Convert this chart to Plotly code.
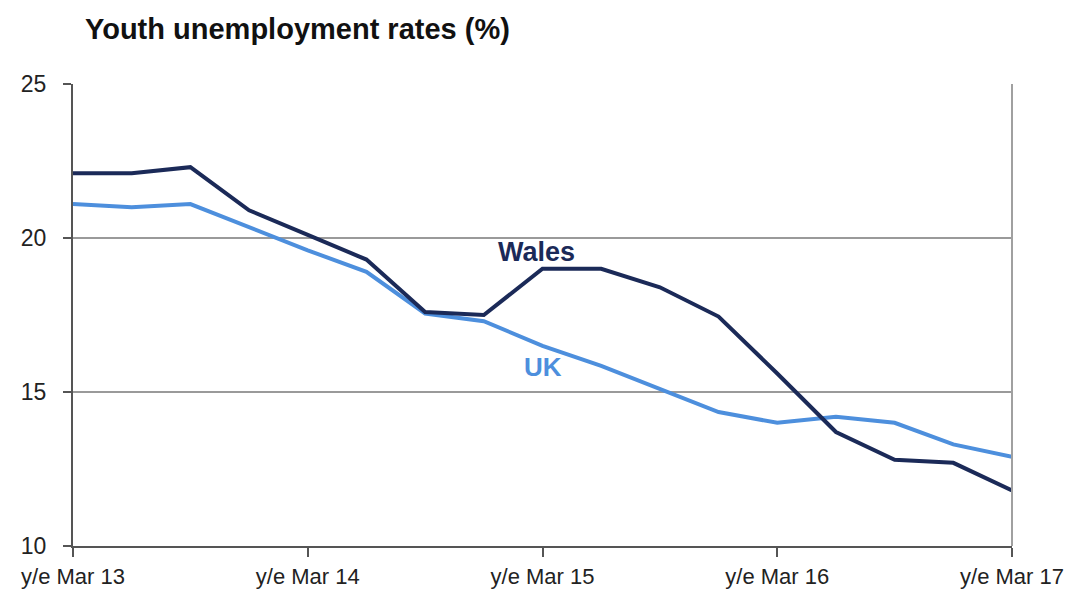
import plotly.graph_objects as go

# Quarterly rolling year-ending periods, y/e Mar 13 to y/e Mar 17
periods = list(range(17))
year_ticks = [0, 4, 8, 12, 16]
year_labels = ["y/e Mar 13", "y/e Mar 14", "y/e Mar 15", "y/e Mar 16", "y/e Mar 17"]

wales = [22.1, 22.1, 22.3, 20.9, 20.1, 19.3, 17.6, 17.5, 19.0, 19.0,
         18.4, 17.45, 15.6, 13.7, 12.8, 12.7, 11.8]
uk = [21.1, 21.0, 21.1, 20.35, 19.6, 18.9, 17.55, 17.3, 16.5, 15.85,
      15.1, 14.35, 14.0, 14.2, 14.0, 13.3, 12.9]

WALES_COL = "#1b2a58"
UK_COL = "#4d8fdd"
FONT = "Liberation Sans, Arial, sans-serif"

fig = go.Figure()
fig.add_trace(go.Scatter(x=periods, y=uk, mode="lines", name="UK",
                         line=dict(color=UK_COL, width=4)))
fig.add_trace(go.Scatter(x=periods, y=wales, mode="lines", name="Wales",
                         line=dict(color=WALES_COL, width=4)))

fig.update_layout(
    width=1071, height=596,
    margin=dict(l=73, r=59, t=84, b=50),
    paper_bgcolor="white", plot_bgcolor="white",
    showlegend=False,
    font=dict(family=FONT, size=22, color="#222222"),
    xaxis=dict(
        range=[0, 16], tickvals=year_ticks, ticktext=year_labels,
        automargin=False,
        showgrid=False, zeroline=False,
        showline=True, linecolor="#555555", linewidth=2,
        ticks="outside", ticklen=9, tickwidth=2, tickcolor="#555555",
        ticklabelstandoff=1,
        tickfont=dict(family=FONT, size=22, color="#222222"),
    ),
    yaxis=dict(
        range=[10, 25], tickvals=[10, 15, 20, 25],
        automargin=False,
        showgrid=True, gridcolor="#9a9a9a", gridwidth=1.5,
        zeroline=False,
        showline=True, linecolor="#555555", linewidth=2,
        ticks="outside", ticklen=8, tickwidth=2, tickcolor="#555555",
        ticklabelstandoff=12,
        tickfont=dict(family=FONT, size=23, color="#222222"),
    ),
    shapes=[dict(type="line", xref="paper", yref="paper",
                 x0=1, x1=1, y0=0, y1=1,
                 line=dict(color="#a0a0a0", width=2))],
    annotations=[
        dict(text="<b>Youth unemployment rates (%)</b>", xref="paper", yref="paper",
             x=0.011, y=1.118, xanchor="left", yanchor="middle", showarrow=False,
             font=dict(family=FONT, size=29, color="#111111")),
        dict(text="<b>Wales</b>", x=7.9, y=19.56, xref="x", yref="y",
             showarrow=False, font=dict(family=FONT, size=27, color=WALES_COL)),
        dict(text="<b>UK</b>", x=8.0, y=15.8, xref="x", yref="y",
             showarrow=False, font=dict(family=FONT, size=26, color=UK_COL)),
    ],
)

fig.write_html("out.html")
